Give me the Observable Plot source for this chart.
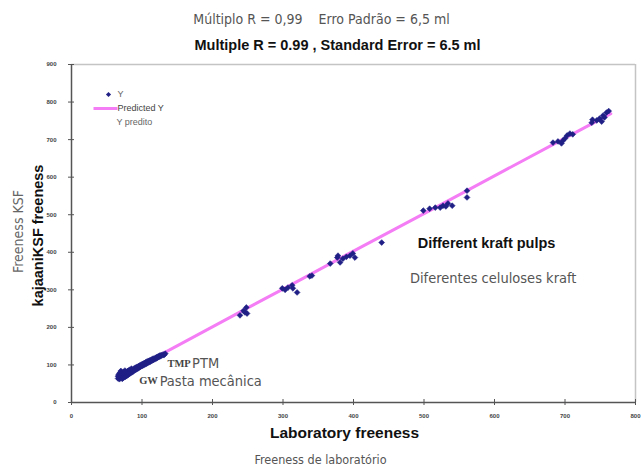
<!DOCTYPE html>
<html>
<head>
<meta charset="utf-8">
<script src="https://cdn.jsdelivr.net/npm/d3@7"></script>
<script src="https://cdn.jsdelivr.net/npm/@observablehq/plot@0.6"></script>
<style>
  html, body { margin: 0; padding: 0; background: #fff; }
  #chart svg { display: block; }
</style>
</head>
<body>
<div id="chart"></div>
<script>
// ---- Data ----
const xTicks = [0, 100, 200, 300, 400, 500, 600, 700, 800];
const yTicks = [0, 100, 200, 300, 400, 500, 600, 700, 800, 900];

// Observed Y: laboratory freeness vs kajaani KSF freeness
const labFreeness = [
  66,66,67,68,68,69,69,70,70,71,71,72,72,73,73,74,74,75,75,76,76,77,78,78,79,80,80,81,82,82,
  83,84,85,85,86,87,88,89,90,91,92,93,94,95,96,97,98,99,100,101,102,103,104,105,106,107,108,109,110,111,
  112,113,114,115,116,117,118,119,120,121,122,123,124,125,126,127,128,130,131,133,
  239,246,248,249,244,
  299,307,313,320,314,303,
  341,338,
  367,377,381,385,395,399,402,378,390,
  440,
  499,508,516,523,527,534,540,561,561,531,
  683,690,697,703,707,711,700,695,
  738,745,749,754,759,756,739,762,752
];
const ksfFreeness = [
  70,64,75,62,68,73,80,66,84,71,76,63,79,68,74,82,66,71,78,85,68,74,80,70,76,84,73,79,87,76,
  81,78,85,90,81,87,83,91,86,93,88,95,90,97,93,99,95,101,97,103,99,105,101,107,103,109,105,111,107,112,
  109,114,111,116,113,117,115,119,117,121,119,123,121,125,123,126,125,128,126,130,
  232,240,253,237,244,
  304,306,312,293,304,300,
  338,336,
  370,386,373,383,391,397,386,391,388,
  426,
  511,516,519,519,524,530,524,564,546,522,
  692,695,697,711,716,714,703,690,
  745,751,756,764,772,759,753,776,748
];

// Predicted Y (regression line)
const predictedLab = [66, 130, 246, 310, 390, 520, 700, 765];
const predictedKsf = [67, 131, 248, 312, 393, 523, 704, 769];

// Texts
const titlePt = "Múltiplo R = 0,99\u00a0\u00a0\u00a0\u00a0Erro Padrão = 6,5 ml";
const titleEn = "Multiple R = 0.99 , Standard Error = 6.5 ml";
const xLabelEn = "Laboratory freeness";
const xLabelPt = "Freeness de laboratório";
const yLabelEn = "kajaaniKSF freeness";
const yLabelPt = "Freeness KSF";
const legendLabels = ["Y", "Predicted Y", "Y predito"];

// Annotations (data coordinates)
const annLab = [491, 480, 136, 171, 96, 125];
const annKsf = [423, 330, 103, 103, 58, 56];
const annText = ["Different kraft pulps", "Diferentes celuloses kraft", "TMP", "PTM", "GW", "Pasta mecânica"];
const annKind = ["en", "pt", "serif", "pt", "serif", "pt"];

// ---- Build tables ----
const points = labFreeness.map((x, i) => ({x, y: ksfFreeness[i]}));
const predicted = predictedLab.map((x, i) => ({x, y: predictedKsf[i]}));
const ann = annText.map((t, i) => ({x: annLab[i], y: annKsf[i], t, k: annKind[i]}));

const navy = "#1f1f86";
const pink = "#f47cf4";
const narrow = "'DejaVu Sans Condensed', 'Liberation Sans Narrow', sans-serif";
const sans = "'Liberation Sans', Arial, sans-serif";
const serif = "'Liberation Serif', 'Times New Roman', serif";

const lineSymbol = {
  draw(context) { context.moveTo(-12, 0); context.lineTo(12, 0); }
};

const chart = Plot.plot({
  width: 641,
  height: 467,
  marginTop: 64,
  marginRight: 6,
  marginBottom: 65,
  marginLeft: 71,
  x: {domain: [0, 800]},
  y: {domain: [0, 900]},
  style: {background: "#fff", fontFamily: sans},
  marks: [
    // light frame top/right
    Plot.ruleY([900], {stroke: "#c4c4c4", strokeWidth: 1.5}),
    Plot.ruleX([800], {stroke: "#c4c4c4", strokeWidth: 1.5}),
    // predicted line
    Plot.line(predicted, {x: "x", y: "y", stroke: pink, strokeWidth: 3}),
    // observed points
    Plot.dot(points, {x: "x", y: "y", symbol: "diamond2", r: 2.6, fill: navy, stroke: navy, strokeWidth: 0.6}),
    // axes lines
    Plot.ruleY([0], {stroke: "#555", strokeWidth: 1.5}),
    Plot.ruleX([0], {stroke: "#555", strokeWidth: 1.5}),
    Plot.axisX({ticks: xTicks, tickSize: 3, tickPadding: 8, fontSize: 6, fontWeight: "bold", label: null, stroke: "#555", fill: "#444"}),
    Plot.axisX({ticks: xTicks, tickSize: -3, tickFormat: () => "", label: null, stroke: "#555"}),
    Plot.axisY({ticks: yTicks, tickSize: 3, tickPadding: 12, fontSize: 6, fontWeight: "bold", label: null, stroke: "#555", fill: "#444"}),
    Plot.axisY({ticks: yTicks, tickSize: -3, tickFormat: () => "", label: null, stroke: "#555"}),
    // titles
    Plot.text([titlePt], {frameAnchor: "top", dx: -32, dy: -45, fontSize: 14, fontFamily: narrow, fill: "#555", lineAnchor: "middle"}),
    Plot.text([titleEn], {frameAnchor: "top", dx: -16, dy: -19, fontSize: 14.5, fontWeight: "bold", fill: "#111", lineAnchor: "middle"}),
    // x labels
    Plot.text([xLabelEn], {frameAnchor: "bottom", dx: -9, dy: 31, fontSize: 15.5, fontWeight: "bold", fill: "#111", lineAnchor: "middle"}),
    Plot.text([xLabelPt], {frameAnchor: "bottom", dx: -33, dy: 57, fontSize: 12.5, fontFamily: narrow, fill: "#555", lineAnchor: "middle"}),
    // y labels
    Plot.text([yLabelEn], {frameAnchor: "left", textAnchor: "middle", dx: -33, dy: 2, rotate: -90, fontSize: 14.5, fontWeight: "bold", fill: "#111", lineAnchor: "middle"}),
    Plot.text([yLabelPt], {frameAnchor: "left", textAnchor: "middle", dx: -53, dy: -2, rotate: -90, fontSize: 14, fontFamily: narrow, fill: "#666", lineAnchor: "middle"}),
    // legend
    Plot.dot([0], {frameAnchor: "top-left", dx: 37, dy: 30, symbol: "diamond2", r: 2.3, fill: navy}),
    Plot.dot([0], {frameAnchor: "top-left", dx: 34, dy: 44, symbol: lineSymbol, stroke: pink, strokeWidth: 3, r: 4}),
    Plot.text([legendLabels[0]], {frameAnchor: "top-left", dx: 46, dy: 30, fontSize: 9, fill: "#666", textAnchor: "start", lineAnchor: "middle"}),
    Plot.text([legendLabels[1]], {frameAnchor: "top-left", dx: 46, dy: 44, fontSize: 9, fill: "#444", textAnchor: "start", lineAnchor: "middle"}),
    Plot.text([legendLabels[2]], {frameAnchor: "top-left", dx: 45, dy: 58, fontSize: 9, fill: "#666", textAnchor: "start", lineAnchor: "middle"}),
    // annotations
    Plot.text(ann.filter(d => d.k === "en"), {x: "x", y: "y", text: "t", fontSize: 14.5, fontWeight: "bold", fill: "#111", textAnchor: "start"}),
    Plot.text(ann.filter(d => d.k === "pt"), {x: "x", y: "y", text: "t", fontSize: 14.5, fontFamily: narrow, fill: "#555", textAnchor: "start"}),
    Plot.text(ann.filter(d => d.k === "serif"), {x: "x", y: "y", text: "t", fontSize: 10.5, fontFamily: serif, fontWeight: "bold", fill: "#444", textAnchor: "start"})
  ]
});
document.getElementById("chart").append(chart);
</script>
</body>
</html>
